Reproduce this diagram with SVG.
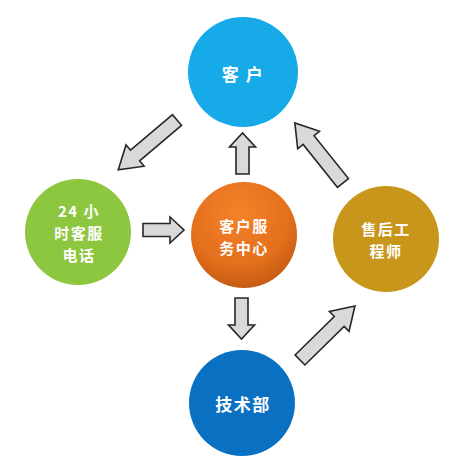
<svg xmlns="http://www.w3.org/2000/svg" xmlns:xlink="http://www.w3.org/1999/xlink" width="464" height="462" viewBox="0 0 464 462">
<style>
.lbl{font-family:"Noto Sans CJK SC","Liberation Sans",sans-serif;font-size:15px;letter-spacing:1.5px;font-weight:bold;fill:#ffffff;text-anchor:middle}
.big{font-size:17px}
.arr{fill:#d9d9d9;stroke:#262626;stroke-width:1.6;stroke-linejoin:miter}
</style>
<defs>
<radialGradient id="og" cx="0.45" cy="0.3" r="0.8">
<stop offset="0" stop-color="#f5822a"/>
<stop offset="0.6" stop-color="#e46f1c"/>
<stop offset="1" stop-color="#b8540f"/>
</radialGradient>
<polygon id="longArr" points="0,-7 55,-7 55,-14 77,0 55,14 55,7 0,7"/>
<polygon id="shortArr" points="0,-6.5 27,-6.5 27,-13 41,0 27,13 27,6.5 0,6.5"/>
</defs>
<rect width="464" height="462" fill="#ffffff"/>
<g id="connectors">
<use xlink:href="#longArr" class="arr" transform="translate(177,120) rotate(139.7)"/>
<use xlink:href="#longArr" class="arr" transform="translate(343,183) rotate(-128.7)"/>
<use xlink:href="#longArr" class="arr" transform="translate(300,360) rotate(-44.5)"/>
<use xlink:href="#shortArr" class="arr" transform="translate(242.5,174) rotate(-90)"/>
<use xlink:href="#shortArr" class="arr" transform="translate(241.5,298) rotate(90)"/>
<use xlink:href="#shortArr" class="arr" transform="translate(143,230)"/>
</g>
<g id="customer">
<circle cx="243" cy="72" r="55" fill="#16aae8"/>
<text class="lbl big" x="243" y="81">客 户</text>
</g>
<g id="hotline">
<circle cx="78" cy="232" r="53" fill="#8dc63f"/>
<text class="lbl" x="79" y="217">24 小</text>
<text class="lbl" x="79" y="239">时客服</text>
<text class="lbl" x="79" y="261">电话</text>
</g>
<g id="service-center">
<circle cx="244" cy="235" r="53" fill="url(#og)"/>
<text class="lbl" x="244" y="232">客户服</text>
<text class="lbl" x="244" y="254">务中心</text>
</g>
<g id="engineer">
<circle cx="386" cy="239" r="53" fill="#c8961b"/>
<text class="lbl" x="386" y="235">售后工</text>
<text class="lbl" x="386" y="257">程师</text>
</g>
<g id="tech">
<circle cx="242" cy="403" r="53" fill="#0a70c2"/>
<text class="lbl big" x="243" y="411">技术部</text>
</g>
</svg>
